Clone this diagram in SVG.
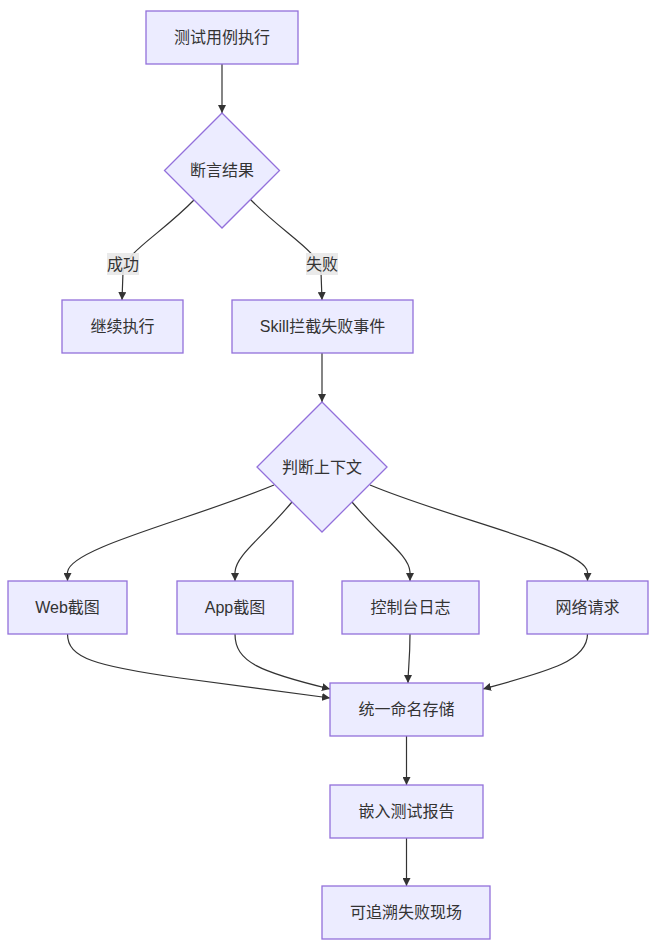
<svg xmlns="http://www.w3.org/2000/svg" width="656" height="950" viewBox="0 0 656 950">
<style>
.node rect,.node polygon{fill:#ECECFF;stroke:#9370DB;stroke-width:1.3}
text{font-family:"Liberation Sans","Noto Sans CJK SC",sans-serif;font-size:16px;fill:#333;text-anchor:middle;dominant-baseline:central}
.edge{fill:none;stroke:#333;stroke-width:1.2;marker-end:url(#arrow)}
.lbl rect{fill:#e8e8e8;opacity:0.9}
</style>
<defs>
<marker id="arrow" viewBox="0 0 10 10" refX="10" refY="5" markerWidth="8" markerHeight="8" markerUnits="userSpaceOnUse" orient="auto">
<path d="M0,0 L10,5 L0,10 z" fill="#333"/>
</marker>
</defs>
<rect width="656" height="950" fill="#fff"/>
<g id="edges">
<path class="edge" d="M222,64 L222,113"/>
<path class="edge" d="M195,199 C160,235 125,252 123,272 L122,300"/>
<path class="edge" d="M250,199 C285,235 320,252 321,272 L322,300"/>
<path class="edge" d="M322,353 L322,402"/>
<path class="edge" d="M274,485 C190,520 70,548 67.5,572 L67.5,581"/>
<path class="edge" d="M292,502 C262,538 236,555 235,572 L235,581"/>
<path class="edge" d="M352,502 C382,538 409,555 410,572 L410,581"/>
<path class="edge" d="M370,485 C454,520 585,548 587.5,572 L587.5,581"/>
<path class="edge" d="M67.5,634 C67.5,658 95,666 180,678 L330,698"/>
<path class="edge" d="M235,634 C235,662 260,672 330,689"/>
<path class="edge" d="M410,634 C410,660 408,670 408,683"/>
<path class="edge" d="M587.5,634 C587.5,662 545,672 483,689"/>
<path class="edge" d="M406.5,736 L406.5,785"/>
<path class="edge" d="M406.5,838 L406.5,886"/>
<g class="lbl"><rect x="107" y="253" width="32" height="22"/><text x="123" y="264">成功</text></g>
<g class="lbl"><rect x="306" y="253" width="32" height="22"/><text x="322" y="264">失败</text></g>
</g>
<g id="n1" class="node"><rect x="146" y="11" width="152" height="53"/><text x="222" y="37.5">测试用例执行</text></g>
<g id="n2" class="node"><polygon points="222,113 279.5,170.5 222,228 164.5,170.5"/><text x="222" y="170.5">断言结果</text></g>
<g id="n3" class="node"><rect x="62" y="300" width="121" height="53"/><text x="122.5" y="326.5">继续执行</text></g>
<g id="n4" class="node"><rect x="232" y="300" width="181" height="53"/><text x="322.5" y="326.5">Skill拦截失败事件</text></g>
<g id="n5" class="node"><polygon points="322,402 387,467 322,532 257,467"/><text x="322" y="467">判断上下文</text></g>
<g id="n6" class="node"><rect x="8" y="581" width="119" height="53"/><text x="67.5" y="607.5">Web截图</text></g>
<g id="n7" class="node"><rect x="177" y="581" width="116" height="53"/><text x="235" y="607.5">App截图</text></g>
<g id="n8" class="node"><rect x="342" y="581" width="137" height="53"/><text x="410.5" y="607.5">控制台日志</text></g>
<g id="n9" class="node"><rect x="527" y="581" width="121" height="53"/><text x="587.5" y="607.5">网络请求</text></g>
<g id="n10" class="node"><rect x="330" y="683" width="153" height="53"/><text x="406.5" y="709.5">统一命名存储</text></g>
<g id="n11" class="node"><rect x="330" y="785" width="153" height="53"/><text x="406.5" y="811.5">嵌入测试报告</text></g>
<g id="n12" class="node"><rect x="322" y="886" width="168" height="53"/><text x="406" y="912.5">可追溯失败现场</text></g>
</svg>
